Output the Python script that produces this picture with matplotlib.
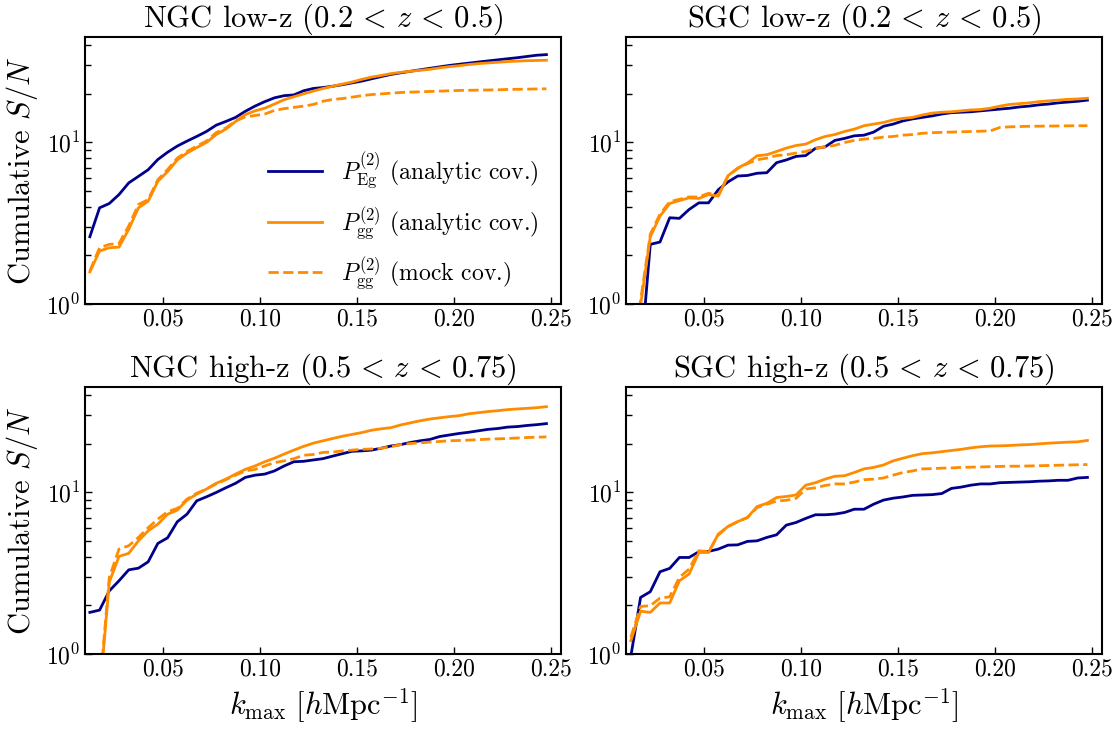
import numpy as np
import matplotlib
matplotlib.use("Agg")
import matplotlib.pyplot as plt

plt.rcParams['font.family'] = 'serif'
plt.rcParams['font.serif'] = ['cmr10']
plt.rcParams['mathtext.fontset'] = 'cm'
plt.rcParams['axes.formatter.use_mathtext'] = True
plt.rcParams['axes.unicode_minus'] = False

# k_max grid [h/Mpc]
kmax = [0.0125 + 0.005 * i for i in range(48)]

titles = [r'NGC low-z $(0.2 \,<\, z \,<\, 0.5)$', r'SGC low-z $(0.2 \,<\, z \,<\, 0.5)$',
          r'NGC high-z $(0.5 \,<\, z \,<\, 0.75)$', r'SGC high-z $(0.5 \,<\, z \,<\, 0.75)$']

# NGC low-z
ngc_lo_Eg = [2.61, 3.94, 4.19, 4.76, 5.62, 6.17, 6.78, 7.85, 8.7, 9.5, 10.2, 10.9,
             11.7, 12.8, 13.5, 14.3, 15.6, 16.8, 17.9, 18.9, 19.5, 19.7, 20.9, 21.6,
             21.9, 22.3, 22.8, 23.4, 24.0, 24.8, 25.6, 26.4, 27.0, 27.6, 28.2, 28.8,
             29.4, 30.0, 30.5, 31.0, 31.5, 32.0, 32.5, 33.0, 33.5, 34.1, 34.7, 35.0]
ngc_lo_gg = [1.58, 2.13, 2.23, 2.25, 2.9, 3.94, 4.33, 5.75, 6.6, 7.8, 8.6, 9.3,
             10.0, 11.2, 12.1, 13.5, 14.9, 15.7, 16.3, 17.3, 18.4, 19.2, 20.0, 20.8,
             21.6, 22.3, 23.0, 23.7, 24.6, 25.4, 26.0, 26.7, 27.2, 27.6, 28.0, 28.4,
             29.0, 29.5, 29.9, 30.4, 30.8, 31.1, 31.4, 31.7, 31.9, 32.1, 32.2, 32.3]
ngc_lo_gg_mock = [1.60, 2.23, 2.34, 2.37, 3.04, 4.13, 4.43, 5.88, 6.8, 8.0, 8.8, 9.5,
                  10.2, 11.5, 12.3, 13.6, 14.4, 14.7, 15.0, 15.8, 16.2, 16.5, 16.8, 17.2,
                  18.0, 18.5, 18.7, 19.1, 19.5, 19.8, 20.0, 20.2, 20.4, 20.5, 20.6, 20.7,
                  20.8, 20.9, 21.0, 21.05, 21.1, 21.15, 21.2, 21.3, 21.35, 21.4, 21.45, 21.5]

# SGC low-z
sgc_lo_Eg = [0.3, 0.45, 2.34, 2.42, 3.42, 3.39, 3.85, 4.23, 4.23, 5.1, 5.7, 6.2,
             6.25, 6.45, 6.5, 7.5, 7.8, 8.2, 8.3, 9.2, 9.4, 10.3, 10.6, 11.0,
             11.1, 11.6, 12.6, 13.0, 13.6, 14.0, 14.3, 14.6, 15.0, 15.3, 15.4, 15.5,
             15.7, 15.9, 16.1, 16.3, 16.6, 16.8, 17.1, 17.3, 17.6, 17.8, 18.0, 18.3]
sgc_lo_gg = [0.4, 0.98, 2.61, 3.5, 4.19, 4.37, 4.54, 4.5, 4.76, 4.65, 6.23, 6.95,
             7.46, 8.28, 8.4, 8.8, 9.23, 9.58, 9.77, 10.4, 10.9, 11.2, 11.7, 12.1,
             12.7, 13.0, 13.3, 13.8, 14.1, 14.3, 14.8, 15.2, 15.4, 15.5, 15.7, 15.9,
             16.0, 16.3, 16.8, 17.2, 17.4, 17.6, 17.9, 18.1, 18.3, 18.5, 18.6, 18.8]
sgc_lo_gg_mock = [0.4, 1.05, 2.7, 3.6, 4.3, 4.45, 4.6, 4.6, 4.85, 4.7, 6.2, 6.9,
                  7.4, 7.82, 8.0, 8.3, 8.4, 8.6, 8.8, 9.2, 9.4, 9.6, 10.0, 10.3,
                  10.5, 10.6, 10.8, 10.9, 11.1, 11.2, 11.4, 11.5, 11.55, 11.6, 11.65, 11.7,
                  11.75, 11.8, 12.4, 12.5, 12.55, 12.6, 12.62, 12.64, 12.66, 12.68, 12.7, 12.7]

# NGC high-z
ngc_hi_Eg = [1.81, 1.87, 2.46, 2.84, 3.32, 3.40, 3.72, 4.84, 5.24, 6.59, 7.34, 8.88,
             9.4, 10.0, 10.7, 11.4, 12.4, 12.8, 13.0, 13.6, 14.6, 15.5, 15.6, 15.9,
             16.2, 16.8, 17.4, 18.0, 18.1, 18.3, 18.8, 19.4, 19.8, 20.4, 20.9, 21.3,
             22.2, 22.7, 23.2, 23.6, 24.1, 24.6, 24.9, 25.4, 25.6, 26.0, 26.3, 26.7]
ngc_hi_gg = [0.3, 0.55, 2.78, 4.02, 4.2, 5.02, 5.79, 6.37, 7.34, 7.78, 8.97, 9.77,
             10.5, 11.4, 12.1, 13.0, 13.9, 14.6, 15.5, 16.3, 17.3, 18.3, 19.3, 20.2,
             20.9, 21.6, 22.3, 22.9, 23.5, 24.3, 24.8, 25.2, 26.2, 27.0, 27.8, 28.5,
             29.0, 29.5, 29.9, 30.7, 31.2, 31.7, 32.1, 32.6, 32.9, 33.2, 33.5, 34.0]
ngc_hi_gg_mock = [0.3, 0.6, 2.98, 4.46, 4.68, 5.27, 6.05, 6.84, 7.6, 7.97, 9.1, 9.9,
                  10.5, 11.3, 12.0, 12.8, 13.6, 13.9, 14.6, 15.3, 15.7, 16.2, 17.0, 17.2,
                  17.7, 17.8, 18.1, 18.3, 18.5, 18.6, 18.8, 19.2, 19.8, 20.1, 20.3, 20.5,
                  20.7, 20.9, 21.0, 21.1, 21.25, 21.4, 21.5, 21.6, 21.75, 21.9, 22.0, 22.1]

# SGC high-z
sgc_hi_Eg = [0.97, 2.24, 2.43, 3.23, 3.39, 3.96, 3.96, 4.30, 4.32, 4.46, 4.72, 4.74,
             4.98, 5.02, 5.27, 5.47, 6.28, 6.52, 6.91, 7.28, 7.28, 7.35, 7.52, 7.88,
             7.88, 8.47, 8.97, 9.22, 9.38, 9.6, 9.65, 9.7, 9.85, 10.6, 10.8, 11.1,
             11.3, 11.3, 11.5, 11.55, 11.6, 11.65, 11.75, 11.8, 11.9, 11.9, 12.3, 12.4]
sgc_hi_gg = [1.21, 1.84, 1.81, 2.07, 2.07, 2.84, 3.13, 4.25, 4.25, 5.53, 6.16, 6.6,
             7.0, 8.19, 8.57, 9.31, 9.45, 9.65, 11.1, 11.5, 12.1, 12.6, 12.7, 13.3,
             14.0, 14.3, 14.8, 15.7, 16.3, 16.9, 17.4, 17.6, 17.9, 18.2, 18.5, 18.9,
             19.2, 19.4, 19.45, 19.55, 19.7, 19.8, 20.0, 20.2, 20.35, 20.5, 20.6, 21.0]
sgc_hi_gg_mock = [1.27, 1.97, 1.99, 2.22, 2.26, 2.98, 3.36, 4.36, 4.3, 5.45, 6.16, 6.6,
                  7.0, 8.07, 8.45, 8.85, 8.95, 9.2, 10.5, 10.7, 11.05, 11.3, 11.3, 11.6,
                  12.0, 12.1, 12.3, 12.8, 13.3, 13.6, 14.0, 14.05, 14.15, 14.2, 14.3, 14.35,
                  14.4, 14.45, 14.5, 14.55, 14.55, 14.6, 14.65, 14.7, 14.75, 14.8, 14.85, 14.9]

panels = [
    (ngc_lo_Eg, ngc_lo_gg, ngc_lo_gg_mock),
    (sgc_lo_Eg, sgc_lo_gg, sgc_lo_gg_mock),
    (ngc_hi_Eg, ngc_hi_gg, ngc_hi_gg_mock),
    (sgc_hi_Eg, sgc_hi_gg, sgc_hi_gg_mock),
]

labels = [r'$P^{(2)}_{\rm Eg}$ (analytic cov.)',
          r'$P^{(2)}_{\rm gg}$ (analytic cov.)',
          r'$P^{(2)}_{\rm gg}$ (mock cov.)']

c_blue = '#00008B'
c_orange = '#FF8C00'

fig = plt.figure(figsize=(11.19, 7.31), dpi=100)
W, H = 1119.0, 731.0
lefts = [85, 626]
tops = [37, 387]
aw, ah = 476, 267

axes = []
for r in range(2):
    for c in range(2):
        ax = fig.add_axes([lefts[c] / W, 1 - (tops[r] + ah) / H, aw / W, ah / H])
        axes.append(ax)

for i, ax in enumerate(axes):
    eg, gg, ggm = panels[i]
    ax.plot(kmax, eg, color=c_blue, lw=2.0, label=labels[0])
    ax.plot(kmax, gg, color=c_orange, lw=2.0, label=labels[1])
    ax.plot(kmax, ggm, color=c_orange, lw=2.0, ls='--', label=labels[2])
    ax.set_yscale('log')
    ax.set_xlim(0.01, 0.255)
    ax.set_ylim(1, 45)
    ax.set_xticks([0.05, 0.10, 0.15, 0.20, 0.25])
    ax.set_xticklabels(['0.05', '0.10', '0.15', '0.20', '0.25'])
    ax.tick_params(which='both', direction='in', labelsize=17, width=1.0)
    ax.tick_params(which='major', length=5)
    ax.tick_params(which='minor', length=4)
    for s in ax.spines.values():
        s.set_linewidth(1.5)
    ax.set_title(titles[i], fontsize=22, pad=6)
    if i % 2 == 0:
        ax.set_ylabel(r'Cumulative $S/N$', fontsize=22)
    if i >= 2:
        ax.set_xlabel(r'$k_{\rm max}\ [h{\rm Mpc}^{-1}]$', fontsize=22)

axes[0].legend(loc='center left', bbox_to_anchor=(0.34, 0.31), frameon=False,
               fontsize=17, handlelength=2.3, labelspacing=0.6, handletextpad=0.8)

fig.savefig('out.png', dpi=100)
